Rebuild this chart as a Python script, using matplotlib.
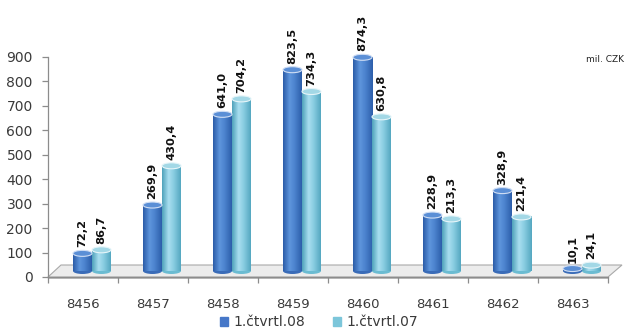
import numpy as np
import matplotlib.pyplot as plt
from matplotlib.patches import Ellipse, Polygon, Rectangle
from matplotlib.colors import LinearSegmentedColormap

categories = ["8456", "8457", "8458", "8459", "8460", "8461", "8462", "8463"]
q1_08 = [72.2, 269.9, 641.0, 823.5, 874.3, 228.9, 328.9, 10.1]
q1_07 = [86.7, 430.4, 704.2, 734.3, 630.8, 213.3, 221.4, 24.1]
series_names = ["1.čtvrtl.08", "1.čtvrtl.07"]
yticks = [0, 100, 200, 300, 400, 500, 600, 700, 800, 900]

W, H = 626, 331
fig = plt.figure(figsize=(W / 100, H / 100), dpi=100)
ax_l, ax_b, ax_w, ax_h = 48, 54, 560, 220
ax = fig.add_axes([ax_l / W, ax_b / H, ax_w / W, ax_h / H])
ax.set_xlim(-0.5, len(categories) - 0.5)
ax.set_ylim(0, 900)

# pixel -> data units
px = len(categories) / ax_w
py = 900 / ax_h

# shading for the cylinders (left to right across each bar)
dark_cmap = LinearSegmentedColormap.from_list(
    "dark", [(0, "#2b5ca8"), (0.35, "#5e95dc"), (0.6, "#4d84cf"), (1, "#2d5fab")])
light_cmap = LinearSegmentedColormap.from_list(
    "light", [(0, "#4fa2ba"), (0.35, "#a9def0"), (0.6, "#8bcee2"), (1, "#55a8c1")])

# floor slab
dx_floor, dy_floor = 13 * px, 12 * py
floor = Polygon([(-0.5, 0), (-0.5 + dx_floor, dy_floor),
                 (len(categories) - 0.5 + dx_floor + 1 * px, dy_floor),
                 (len(categories) - 0.5, 0)],
                closed=True, facecolor="#ececec", edgecolor="#a9a9a9",
                lw=0.8, zorder=1, clip_on=False)
ax.add_patch(floor)
ax.add_patch(Polygon([(-0.5, 0), (len(categories) - 0.5, 0),
                      (len(categories) - 0.5, -2 * py), (-0.5, -2 * py)],
                     closed=True, facecolor="#bdbdbd", edgecolor="none",
                     zorder=1, clip_on=False))

bar_w = 19 * px
shift_x = 9 * px
base = 6 * py
ell_h = 6 * py
grad = np.linspace(0, 1, 64).reshape(1, -1)


def cylinder(x0, value, cmap, side, top_face, top_edge):
    cx = x0 + bar_w / 2
    ax.add_patch(Ellipse((cx, base), bar_w, ell_h, facecolor=side,
                         edgecolor="none", zorder=3, clip_on=False))
    ax.imshow(grad, extent=[x0, x0 + bar_w, base, base + value], cmap=cmap,
              aspect="auto", interpolation="bilinear", zorder=4, clip_on=False)
    ax.add_patch(Ellipse((cx, base + value), bar_w, ell_h, facecolor=top_face,
                         edgecolor=top_edge, lw=0.8, zorder=5, clip_on=False))
    label = f"{value:.1f}".replace(".", ",")
    ax.text(cx, base + value + ell_h / 2 + 3 * py, label, rotation=90,
            ha="center", va="bottom", fontsize=8.2, fontweight="bold",
            color="#111111", zorder=6)


for i in range(len(categories)):
    cylinder(i - bar_w + shift_x, q1_08[i], dark_cmap, "#3a6cb8", "#5b8fd6", "#d0def4")
    cylinder(i + shift_x, q1_07[i], light_cmap, "#6bbcd2", "#a3d8e6", "#e6f5f9")

ax.set_xlim(-0.5, len(categories) - 0.5)
ax.set_ylim(0, 900)

for s in ["top", "right"]:
    ax.spines[s].set_visible(False)
for s in ["left", "bottom"]:
    ax.spines[s].set_color("#8c8c8c")
    ax.spines[s].set_linewidth(0.9)
    ax.spines[s].set_zorder(2)

ax.set_yticks(yticks)
ax.tick_params(axis="y", length=4, width=0.9, color="#8c8c8c", pad=7,
               labelsize=10, labelcolor="#3a3a3a")
ax.set_xticks(np.arange(len(categories) + 1) - 0.5)
ax.set_xticklabels([])
ax.tick_params(axis="x", which="major", length=4, width=0.9, color="#8c8c8c")
ax.set_xticks(np.arange(len(categories)), minor=True)
ax.set_xticklabels(categories, minor=True)
ax.tick_params(axis="x", which="minor", length=0, pad=15,
               labelsize=9.5, labelcolor="#3a3a3a")

fig.text(605 / W, 1 - 60 / H, "mil. CZK", fontsize=6.5, ha="center",
         va="center", color="#222222")

handles = [Rectangle((0, 0), 1, 1, color="#4677c8"),
           Rectangle((0, 0), 1, 1, color="#7cc6da")]
fig.legend(handles, series_names, loc="center", bbox_to_anchor=(319 / W, 1 - 322 / H),
           ncol=2, frameon=False, fontsize=10, handlelength=0.6, handleheight=0.6,
           handletextpad=0.4, columnspacing=2.0, labelcolor="#3a3a3a")

fig.savefig("out.png", dpi=100)
